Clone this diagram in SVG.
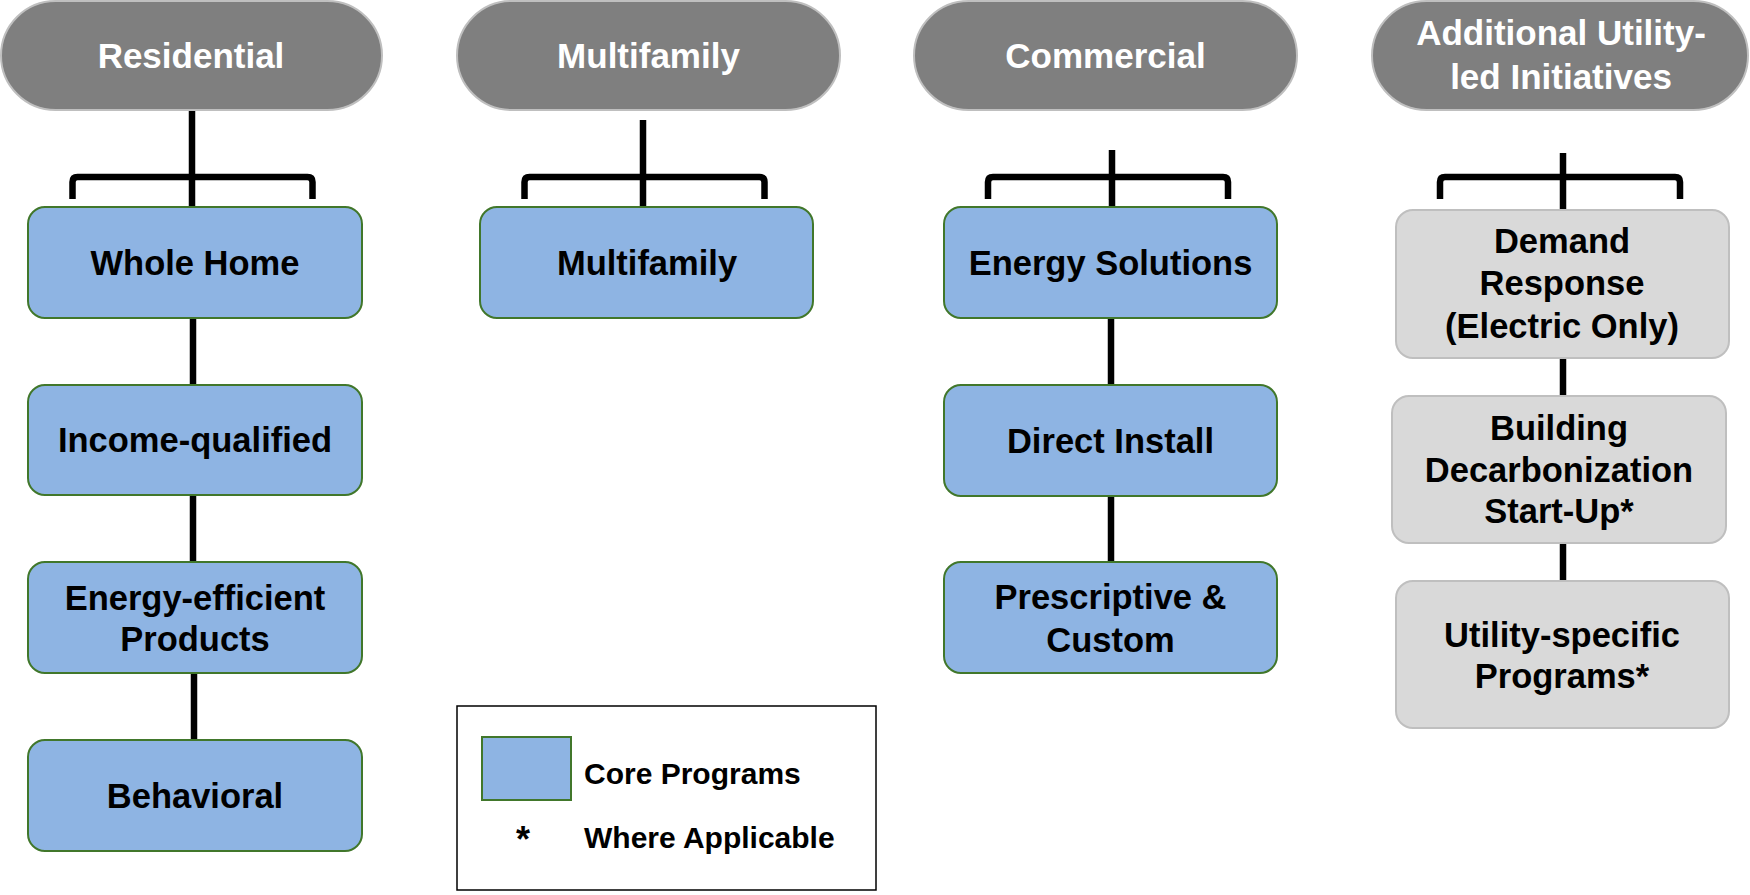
<svg xmlns="http://www.w3.org/2000/svg" width="1750" height="895" viewBox="0 0 1750 895">
<style>
.hdr{fill:#7f7f7f;stroke:#bfbfbf;stroke-width:2}
.core{fill:#8eb4e3;stroke:#41772b;stroke-width:2}
.add{fill:#d9d9d9;stroke:#bfbfbf;stroke-width:2}
.ht{font-family:"Liberation Sans",Arial,sans-serif;font-weight:bold;font-size:35px;fill:#ffffff;text-anchor:middle}
.bt{font-family:"Liberation Sans",Arial,sans-serif;font-weight:bold;font-size:34.5px;fill:#000000;text-anchor:middle}
.lt{font-family:"Liberation Sans",Arial,sans-serif;font-weight:bold;font-size:30px;fill:#000000}
.ln{fill:none;stroke:#000000;stroke-width:6.5}
</style>
<rect width="1750" height="895" fill="#ffffff"/>
<g id="connectors">
<line class="ln" x1="192" y1="110" x2="192" y2="207"/>
<path class="ln" d="M72.5,199 V182 Q72.5,177 77.5,177 H307.5 Q312.5,177 312.5,182 V199"/>
<line class="ln" x1="193" y1="318" x2="193" y2="385"/>
<line class="ln" x1="193" y1="495" x2="193" y2="562"/>
<line class="ln" x1="194" y1="673" x2="194" y2="740"/>
<line class="ln" x1="643" y1="120" x2="643" y2="207"/>
<path class="ln" d="M524.5,199 V182 Q524.5,177 529.5,177 H759.5 Q764.5,177 764.5,182 V199"/>
<line class="ln" x1="1112" y1="150" x2="1112" y2="207"/>
<path class="ln" d="M988,199 V182 Q988,177 993,177 H1223 Q1228,177 1228,182 V199"/>
<line class="ln" x1="1111" y1="318" x2="1111" y2="385"/>
<line class="ln" x1="1111" y1="496" x2="1111" y2="562"/>
<line class="ln" x1="1563" y1="153" x2="1563" y2="210"/>
<path class="ln" d="M1440,199 V182 Q1440,177 1445,177 H1675 Q1680,177 1680,182 V199"/>
<line class="ln" x1="1563" y1="358" x2="1563" y2="396"/>
<line class="ln" x1="1563" y1="543" x2="1563" y2="581"/>
</g>
<g id="hdr-residential">
<rect class="hdr" x="1" y="1" width="381" height="109" rx="54.5"/>
<text class="ht" x="191" y="68">Residential</text>
</g>
<g id="hdr-multifamily">
<rect class="hdr" x="457" y="1" width="383" height="109" rx="54.5"/>
<text class="ht" x="648.5" y="68">Multifamily</text>
</g>
<g id="hdr-commercial">
<rect class="hdr" x="914" y="1" width="383" height="109" rx="54.5"/>
<text class="ht" x="1105.5" y="68">Commercial</text>
</g>
<g id="hdr-additional">
<rect class="hdr" x="1372" y="1" width="376" height="109" rx="54.5"/>
<text class="ht" x="1561" y="45">Additional Utility-</text>
<text class="ht" x="1561" y="89">led Initiatives</text>
</g>
<g id="whole-home">
<rect class="core" x="28" y="207" width="334" height="111" rx="17"/>
<text class="bt" x="195" y="275">Whole Home</text>
</g>
<g id="income-qualified">
<rect class="core" x="28" y="385" width="334" height="110" rx="17"/>
<text class="bt" x="195" y="452">Income-qualified</text>
</g>
<g id="energy-efficient">
<rect class="core" x="28" y="562" width="334" height="111" rx="17"/>
<text class="bt" x="195" y="610">Energy-efficient</text>
<text class="bt" x="195" y="651">Products</text>
</g>
<g id="behavioral">
<rect class="core" x="28" y="740" width="334" height="111" rx="17"/>
<text class="bt" x="195" y="808">Behavioral</text>
</g>
<g id="multifamily">
<rect class="core" x="480" y="207" width="333" height="111" rx="17"/>
<text class="bt" x="647" y="275">Multifamily</text>
</g>
<g id="energy-solutions">
<rect class="core" x="944" y="207" width="333" height="111" rx="17"/>
<text class="bt" x="1110.5" y="275">Energy Solutions</text>
</g>
<g id="direct-install">
<rect class="core" x="944" y="385" width="333" height="111" rx="17"/>
<text class="bt" x="1110.5" y="453">Direct Install</text>
</g>
<g id="prescriptive">
<rect class="core" x="944" y="562" width="333" height="111" rx="17"/>
<text class="bt" x="1110.5" y="609">Prescriptive &amp;</text>
<text class="bt" x="1110.5" y="652">Custom</text>
</g>
<g id="demand-response">
<rect class="add" x="1396" y="210" width="333" height="148" rx="17"/>
<text class="bt" x="1562" y="253">Demand</text>
<text class="bt" x="1562" y="295">Response</text>
<text class="bt" x="1562" y="338">(Electric Only)</text>
</g>
<g id="building-decarb">
<rect class="add" x="1392" y="396" width="334" height="147" rx="17"/>
<text class="bt" x="1559" y="440">Building</text>
<text class="bt" x="1559" y="482">Decarbonization</text>
<text class="bt" x="1559" y="523">Start-Up*</text>
</g>
<g id="utility-specific">
<rect class="add" x="1396" y="581" width="333" height="147" rx="17"/>
<text class="bt" x="1562" y="647">Utility-specific</text>
<text class="bt" x="1562" y="688">Programs*</text>
</g>
<g id="legend">
<rect x="457" y="706" width="419" height="184" fill="#ffffff" stroke="#000000" stroke-width="1.5"/>
<rect x="482" y="737" width="89" height="63" fill="#8eb4e3" stroke="#41772b" stroke-width="2"/>
<text class="lt" x="584" y="784">Core Programs</text>
<text class="lt" x="516" y="852" style="font-size:36px">*</text>
<text class="lt" x="584" y="848">Where Applicable</text>
</g>
</svg>
